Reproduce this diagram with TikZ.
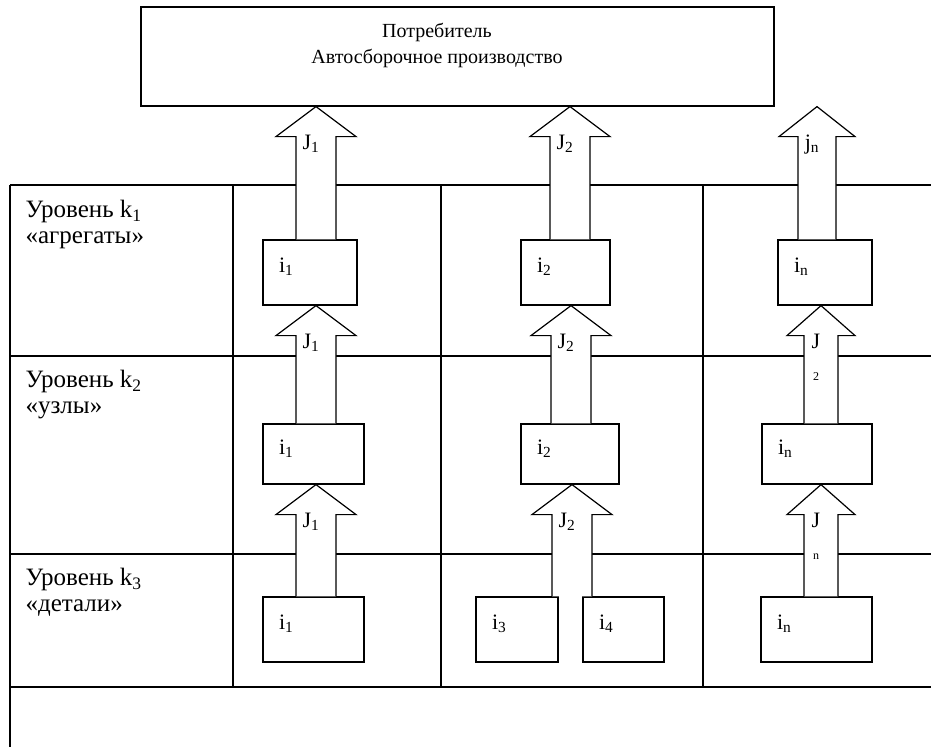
\documentclass[tikz,border=0pt]{standalone}
\usepackage{fontspec}
\setmainfont{Liberation Serif}
\usetikzlibrary{calc}

\newcommand{\lo}[1]{\textsubscript{#1}}
\newcommand{\sm}{\fontsize{12}{14}\selectfont}
% block arrow: [half shaft] x, from node, to node, label
\newcommand{\flow}[5][20]{%
  \filldraw[flowline] let \p1=(#3.north), \p2=(#4.south) in
    (#2pt-#1pt,\y1) -- (#2pt-#1pt,\y2-30pt) -- (#2pt-2*#1pt,\y2-30pt) -- (#2pt,\y2)
    -- (#2pt+2*#1pt,\y2-30pt) -- (#2pt+#1pt,\y2-30pt) -- (#2pt+#1pt,\y1)
    node[flowlabel] at (#2pt-5pt,\y2-28pt) {#5};
}

\begin{document}
\begin{tikzpicture}[
    x=1pt, y=-1pt,
    font=\fontsize{22}{26}\selectfont,
    line width=1.2pt,
    consumer/.style={draw, minimum width=633pt, minimum height=99pt},
    unit/.style={draw, inner xsep=16pt, inner ysep=0pt, align=left, text height=14pt, text depth=14pt},
    level/.style={anchor=north west, inner sep=0pt, align=left, font=\fontsize{25}{26}\selectfont},
    flowline/.style={fill=white, draw=black, line join=miter},
    flowlabel/.style={anchor=north, inner sep=0pt, align=center},
    gridline/.style={draw=black}
]
    \useasboundingbox (0,0) rectangle (931,747);

    % Table
    \draw[gridline] (10,185) -- (931,185);
    \draw[gridline] (10,356) -- (931,356);
    \draw[gridline] (10,554) -- (931,554);
    \draw[gridline] (10,687) -- (931,687);
    \draw[gridline] (10,185) -- (10,747);
    \draw[gridline] (233,185) -- (233,687);
    \draw[gridline] (441,185) -- (441,687);
    \draw[gridline] (703,185) -- (703,687);

    % Nodes
    \node (cons) [consumer] at (457.5,56.5) {};
    \node (constext) [anchor=north, inner sep=0pt, align=center, font=\fontsize{20}{26}\selectfont] at (437,23) {Потребитель\\Автосборочное производство};

    \node (lev1) [level] at (25,200) {Уровень k\lo{1}\\«агрегаты»};
    \node (lev2) [level] at (25,370) {Уровень k\lo{2}\\«узлы»};
    \node (lev3) [level] at (25,568) {Уровень k\lo{3}\\«детали»};

    \node (a1) [unit, text width=62pt, minimum height=65pt] at (310,272.5) {i\lo{1}};
    \node (a2) [unit, text width=57pt, minimum height=65pt] at (565.5,272.5) {i\lo{2}};
    \node (a3) [unit, text width=62pt, minimum height=65pt] at (825,272.5) {i\lo{n}};

    \node (b1) [unit, text width=69pt, minimum height=60pt] at (313.5,454) {i\lo{1}};
    \node (b2) [unit, text width=66pt, minimum height=60pt] at (570,454) {i\lo{2}};
    \node (b3) [unit, text width=78pt, minimum height=60pt] at (817,454) {i\lo{n}};

    \node (c1) [unit, text width=69pt, minimum height=65pt] at (313.5,629.5) {i\lo{1}};
    \node (c2a) [unit, text width=50pt, minimum height=65pt] at (517,629.5) {i\lo{3}};
    \node (c2b) [unit, text width=49pt, minimum height=65pt] at (623.5,629.5) {i\lo{4}};
    \node (c3) [unit, text width=79pt, minimum height=65pt] at (816.5,629.5) {i\lo{n}};

    % Flows
    \flow{316}{a1}{cons}{J\lo{1}}
    \flow{570}{a2}{cons}{J\lo{2}}
    \flow[19]{817}{a3}{cons}{j\lo{n}}

    \flow{316}{b1}{a1}{J\lo{1}}
    \flow{571}{b2}{a2}{J\lo{2}}
    \flow[17]{821}{b3}{a3}{J\\[6pt]{\sm 2}}

    \flow{316}{c1}{b1}{J\lo{1}}
    \flow{572}{c2a}{b2}{J\lo{2}}
    \flow[17]{821}{c3}{b3}{J\\[6pt]{\sm n}}
\end{tikzpicture}
\end{document}
